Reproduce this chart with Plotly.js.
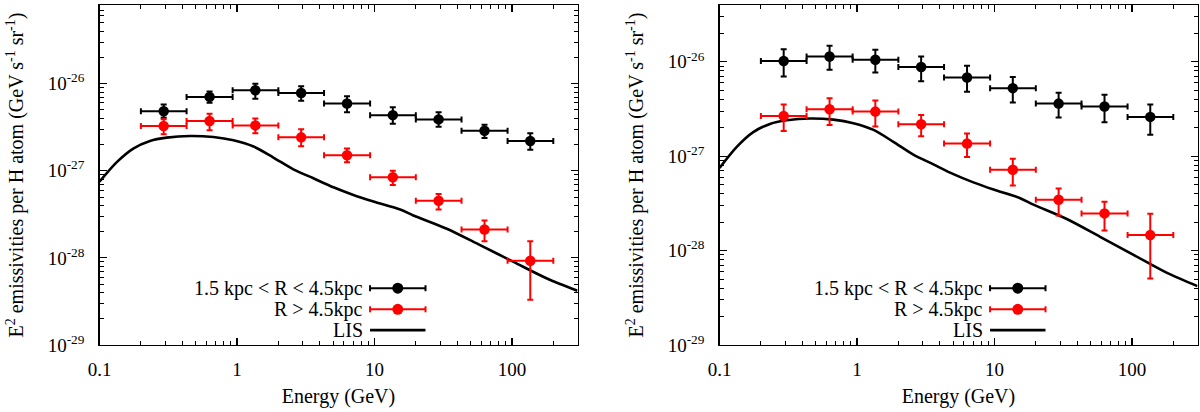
<!DOCTYPE html>
<html>
<head>
<meta charset="utf-8">
<script src="https://cdn.plot.ly/plotly-3.0.1.min.js"></script>
<style>
html, body { margin: 0; padding: 0; background: #fff; }
#chart { width: 1200px; height: 412px; }
</style>
</head>
<body>
<div id="chart"></div>
<script>
// energy bins (GeV), same for every series
var binLow  = [0.2, 0.43, 0.93, 2.0, 4.3, 9.3, 20, 43, 93];
var binHigh = [0.43, 0.93, 2.0, 4.3, 9.3, 20, 43, 93, 200];
var energy  = [0.293, 0.632, 1.36, 2.93, 6.32, 13.6, 29.3, 63.2, 136];

// left panel, 1.5 kpc < R < 4.5 kpc
var innerL   = [4.83e-27, 7.05e-27, 8.4e-27, 7.83e-27, 5.92e-27, 4.35e-27, 3.89e-27, 2.88e-27, 2.2e-27];
var innerLHi = [5.75e-27, 8.11e-27, 1.0e-26, 9.33e-27, 7.16e-27, 5.37e-27, 4.71e-27, 3.38e-27, 2.69e-27];
var innerLLo = [4.05e-27, 6.03e-27, 6.7e-27, 6.35e-27, 4.71e-27, 3.47e-27, 3.21e-27, 2.38e-27, 1.74e-27];

// left panel, R > 4.5 kpc
var outerL   = [3.26e-27, 3.72e-27, 3.32e-27, 2.42e-27, 1.51e-27, 8.41e-28, 4.52e-28, 2.12e-28, 9.27e-29];
var outerLHi = [3.9e-27, 4.51e-27, 3.98e-27, 2.99e-27, 1.80e-27, 1.0e-27, 5.42e-28, 2.69e-28, 1.55e-28];
var outerLLo = [2.63e-27, 2.91e-27, 2.69e-27, 1.91e-27, 1.25e-27, 6.87e-28, 3.59e-28, 1.55e-28, 3.3e-29];

// right panel, 1.5 kpc < R < 4.5 kpc
var innerR   = [1.02e-26, 1.14e-26, 1.05e-26, 8.8e-27, 6.83e-27, 5.26e-27, 3.61e-27, 3.36e-27, 2.61e-27];
var innerRHi = [1.36e-26, 1.48e-26, 1.34e-26, 1.14e-26, 9.08e-27, 6.89e-27, 4.69e-27, 4.47e-27, 3.53e-27];
var innerRLo = [7.0e-27, 8.22e-27, 7.71e-27, 6.24e-27, 4.81e-27, 3.71e-27, 2.57e-27, 2.29e-27, 1.69e-27];

// right panel, R > 4.5 kpc
var outerR   = [2.67e-27, 3.15e-27, 2.97e-27, 2.18e-27, 1.36e-27, 7.2e-28, 3.46e-28, 2.48e-28, 1.46e-28];
var outerRHi = [3.53e-27, 4.12e-27, 3.89e-27, 2.74e-27, 1.74e-27, 9.42e-28, 4.56e-28, 3.30e-28, 2.46e-28];
var outerRLo = [1.85e-27, 2.14e-27, 2.07e-27, 1.63e-27, 9.8e-28, 4.91e-28, 2.36e-28, 1.63e-28, 5.06e-29];

// LIS model curve
var lisE = [0.1, 0.133, 0.176, 0.233, 0.308, 0.456, 0.673, 0.942, 1.32, 1.84, 2.57, 3.6, 5.03, 7.03, 9.84, 15.4, 19.2, 33.6, 58.7, 102.8, 180, 300];
var lisV = [7.5e-28, 1.25e-27, 1.80e-27, 2.2e-27, 2.40e-27, 2.51e-27, 2.44e-27, 2.24e-27, 1.90e-27, 1.42e-27, 1.04e-27, 8.2e-28, 6.46e-28, 5.28e-28, 4.43e-28, 3.59e-28, 3.07e-28, 2.16e-28, 1.40e-28, 9.0e-29, 5.8e-29, 4.2e-29];

var legendNames = ['1.5 kpc < R < 4.5kpc', 'R > 4.5kpc', 'LIS'];
var xTickVals = [0.1, 1, 10, 100];
var xTickText = ['0.1', '1', '10', '100'];
var yTickVals = [1e-29, 1e-28, 1e-27, 1e-26];
var yTickText = ['10<sup>-29</sup>', '10<sup>-28</sup>', '10<sup>-27</sup>', '10<sup>-26</sup>'];

var FONT = 'Liberation Serif, Times New Roman, serif';

function minorTicks(d0, d1) {
  var out = [];
  for (var d = d0; d <= d1; d++) {
    for (var k = 2; k <= 9; k++) out.push(k * Math.pow(10, d));
  }
  return out;
}

function points(v, hi, lo, color, xa, ya) {
  return {
    x: energy, y: v, xaxis: xa, yaxis: ya,
    type: 'scatter', mode: 'markers', showlegend: false,
    marker: { color: color, size: 10.5 },
    error_y: {
      type: 'data', symmetric: false, color: color, thickness: 2, width: 3,
      array: hi.map(function(h, i) { return h - v[i]; }),
      arrayminus: lo.map(function(l, i) { return v[i] - l; })
    },
    error_x: {
      type: 'data', symmetric: false, color: color, thickness: 2, width: 3,
      array: binHigh.map(function(h, i) { return h - energy[i]; }),
      arrayminus: binLow.map(function(l, i) { return energy[i] - l; })
    }
  };
}

function lis(xa, ya) {
  return {
    x: lisE, y: lisV, xaxis: xa, yaxis: ya, type: 'scatter', mode: 'lines',
    showlegend: false, line: { color: '#000', width: 2.6, shape: 'spline', smoothing: 0.8 }
  };
}

var data = [
  lis('x', 'y'),
  points(innerL, innerLHi, innerLLo, '#000', 'x', 'y'),
  points(outerL, outerLHi, outerLLo, '#ff0000', 'x', 'y'),
  lis('x2', 'y2'),
  points(innerR, innerRHi, innerRLo, '#000', 'x2', 'y2'),
  points(outerR, outerRHi, outerRLo, '#ff0000', 'x2', 'y2')
];

function common() {
  return {
    type: 'log', showline: true, linecolor: '#000', linewidth: 1.3, mirror: 'allticks',
    ticks: 'inside', ticklen: 7, tickwidth: 1.2, tickcolor: '#000',
    showgrid: false, zeroline: false, automargin: false,
    tickfont: { family: FONT, size: 19, color: '#000' },
    tickmode: 'array'
  };
}

function xAxis(domain, anchor) {
  var a = common();
  a.domain = domain; a.anchor = anchor;
  a.range = [-1, Math.log10(300)];
  a.tickvals = xTickVals; a.ticktext = xTickText;
  a.minor = { tickmode: 'array', tickvals: minorTicks(-1, 2), ticks: 'inside', ticklen: 4, tickwidth: 1, tickcolor: '#000', showgrid: false };
  a.ticklabelstandoff = 7;
  a.title = { text: 'Energy (GeV)', font: { family: FONT, size: 20, color: '#000' }, standoff: 10 };
  return a;
}

function yAxis(domain, anchor, top) {
  var a = common();
  a.domain = domain; a.anchor = anchor;
  a.range = [-29, Math.log10(top)];
  a.tickvals = yTickVals; a.ticktext = yTickText;
  a.minor = { tickmode: 'array', tickvals: minorTicks(-29, -26), ticks: 'inside', ticklen: 4, tickwidth: 1, tickcolor: '#000', showgrid: false };
  a.ticklabelstandoff = 10;
  a.title = {
    text: 'E<sup>2</sup> emissivities per H atom (GeV s<sup>-1</sup> sr<sup>-1</sup>)',
    font: { family: FONT, size: 20, color: '#000' }, standoff: 18
  };
  return a;
}

// gnuplot-style key: text right-aligned, sample on the right
var shapes = [];
var annotations = [];
var keyRows = [0.167, 0.105, 0.044];
var keyX0 = 0.566, keyX1 = 0.682, keyXM = 0.624, keyText = 0.556;
var keyColors = ['#000', '#ff0000', '#000'];

[['x domain', 'y domain'], ['x2 domain', 'y2 domain']].forEach(function(ref) {
  for (var i = 0; i < 3; i++) {
    var yy = keyRows[i], c = keyColors[i];
    annotations.push({
      xref: ref[0], yref: ref[1], x: keyText, y: yy, xanchor: 'right', yanchor: 'middle',
      text: legendNames[i], showarrow: false, font: { family: FONT, size: 20, color: '#000' }
    });
    shapes.push({ type: 'line', xref: ref[0], yref: ref[1], x0: keyX0, x1: keyX1, y0: yy, y1: yy,
      line: { color: c, width: i === 2 ? 2.8 : 2 } });
    if (i < 2) {
      [keyX0, keyX1].forEach(function(xc) {
        shapes.push({ type: 'line', xref: ref[0], yref: ref[1], x0: xc, x1: xc,
          ysizemode: 'pixel', yanchor: yy, y0: -3, y1: 3, line: { color: c, width: 2 } });
      });
      shapes.push({ type: 'circle', xref: ref[0], yref: ref[1],
        xsizemode: 'pixel', xanchor: keyXM, x0: -5.5, x1: 5.5,
        ysizemode: 'pixel', yanchor: yy, y0: -5.5, y1: 5.5,
        fillcolor: c, line: { width: 0 } });
    }
  }
});

var yDom = [67 / 412, 407 / 412];
var layout = {
  width: 1200, height: 412,
  margin: { l: 0, r: 0, t: 0, b: 0 },
  paper_bgcolor: '#fff', plot_bgcolor: '#fff',
  showlegend: false,
  font: { family: FONT, color: '#000' },
  xaxis: xAxis([99.5 / 1200, 577.5 / 1200], 'y'),
  yaxis: yAxis(yDom, 'x', 8e-26),
  xaxis2: xAxis([719.5 / 1200, 1197.5 / 1200], 'y2'),
  yaxis2: yAxis(yDom, 'x2', 4e-26),
  shapes: shapes,
  annotations: annotations
};

Plotly.newPlot('chart', data, layout, { displayModeBar: false, staticPlot: true });
</script>
</body>
</html>
